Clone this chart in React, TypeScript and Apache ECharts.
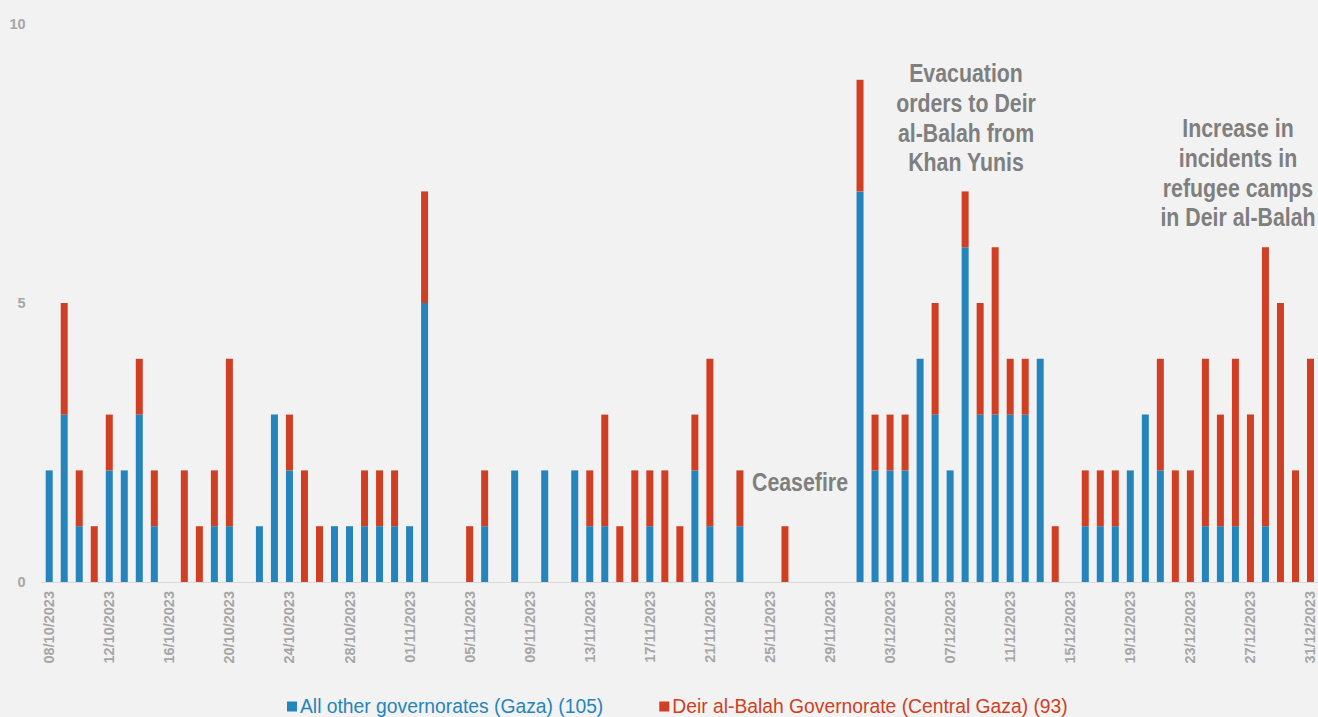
import React, { useEffect, useRef } from "react";
import * as echarts from "echarts";

const startDate = new Date(2023, 9, 8);
const dayCount = 85;
const dates: string[] = Array.from({ length: dayCount }, (_, i) => {
  const d = new Date(startDate.getFullYear(), startDate.getMonth(), startDate.getDate() + i);
  const dd = String(d.getDate()).padStart(2, "0");
  const mm = String(d.getMonth() + 1).padStart(2, "0");
  return `${dd}/${mm}/${d.getFullYear()}`;
});

// All other governorates (Gaza)
const otherGov: number[] = [
  2, 3, 1, 0, 2, 2, 3, 1, 0, 0, 0, 1, 1, 0, 1, 3, 2, 0, 0, 1, 1, 1, 1, 1, 1,
  5, 0, 0, 0, 1, 0, 2, 0, 2, 0, 2, 1, 1, 0, 0, 1, 0, 0, 2, 1, 0, 1, 0, 0, 0,
  0, 0, 0, 0, 7, 2, 2, 2, 4, 3, 2, 6, 3, 3, 3, 3, 4, 0, 0, 1, 1, 1, 2, 3, 2,
  0, 0, 1, 1, 1, 0, 1, 0, 0, 0,
];
// Deir al-Balah Governorate (Central Gaza)
const deirAlBalah: number[] = [
  0, 2, 1, 1, 1, 0, 1, 1, 0, 2, 1, 1, 3, 0, 0, 0, 1, 2, 1, 0, 0, 1, 1, 1, 0,
  2, 0, 0, 1, 1, 0, 0, 0, 0, 0, 0, 1, 2, 1, 2, 1, 2, 1, 1, 3, 0, 1, 0, 0, 1,
  0, 0, 0, 0, 2, 1, 1, 1, 0, 2, 0, 1, 2, 3, 1, 1, 0, 1, 0, 1, 1, 1, 0, 0, 2,
  2, 2, 3, 2, 3, 3, 5, 5, 2, 4,
];

const sum = (a: number[]) => a.reduce((s, v) => s + v, 0);
const seriesNames = [
  `All other governorates (Gaza) (${sum(otherGov)})`,
  `Deir al-Balah Governorate (Central Gaza) (${sum(deirAlBalah)})`,
];
const annotations = [
  { text: "Ceasefire", x: 800, y: 467 },
  { text: "Evacuation\norders to Deir\nal-Balah from\nKhan Yunis", x: 966, y: 58 },
  { text: "Increase in\nincidents in\nrefugee camps\nin Deir al-Balah", x: 1238, y: 113 },
];

const BLUE = "#2684BC";
const RED = "#D03F23";
const FONT = "'Liberation Sans', Arial, sans-serif";

export default function App() {
  const ref = useRef<HTMLDivElement>(null);
  useEffect(() => {
    document.body.style.margin = "0";
    const chart = echarts.init(ref.current!, undefined, { renderer: "svg" });
    chart.setOption({
      animation: false,
      backgroundColor: "#F2F2F2",
      grid: { left: 41.7, right: 0, top: 24, bottom: 135 },
      legend: {
        left: 282,
        top: 692,
        itemWidth: 10,
        itemHeight: 10,
        itemGap: 56,
        icon: "rect",
        data: [
          { name: seriesNames[0], textStyle: { color: BLUE } },
          { name: seriesNames[1], textStyle: { color: RED } },
        ],
        textStyle: { fontFamily: FONT, fontSize: 19.3, padding: [0, 0, 0, -2] },
      },
      xAxis: {
        type: "category",
        data: dates,
        boundaryGap: true,
        axisLine: { lineStyle: { color: "#D9D9D9" } },
        axisTick: { interval: 3, alignWithLabel: false, length: 5, lineStyle: { color: "#D9D9D9" } },
        axisLabel: {
          interval: 3,
          rotate: 90,
          color: "#A6A6A6",
          fontWeight: "bold",
          fontFamily: FONT,
          fontSize: 14.5,
          margin: 9,
        },
      },
      yAxis: {
        type: "value",
        min: 0,
        max: 10,
        interval: 5,
        splitLine: { show: false },
        axisLine: { show: false },
        axisTick: { show: false },
        axisLabel: {
          color: "#A6A6A6",
          fontWeight: "bold",
          fontFamily: FONT,
          fontSize: 14.5,
          margin: 16,
        },
      },
      series: [
        {
          name: seriesNames[0],
          type: "bar",
          stack: "total",
          data: otherGov,
          barWidth: 7,
          itemStyle: { color: BLUE },
        },
        {
          name: seriesNames[1],
          type: "bar",
          stack: "total",
          data: deirAlBalah,
          barWidth: 7,
          itemStyle: { color: RED },
        },
      ],
      graphic: annotations.map((a) => ({
        type: "text",
        x: a.x,
        y: a.y,
        scaleX: 0.82,
        style: {
          text: a.text,
          fill: "#7F7F7F",
          font: `bold 26px ${FONT}`,
          textAlign: "center",
          textVerticalAlign: "top",
          lineHeight: 29.7,
        },
      })),
    });
    return () => chart.dispose();
  }, []);
  return <div ref={ref} style={{ width: 1318, height: 717 }} />;
}
